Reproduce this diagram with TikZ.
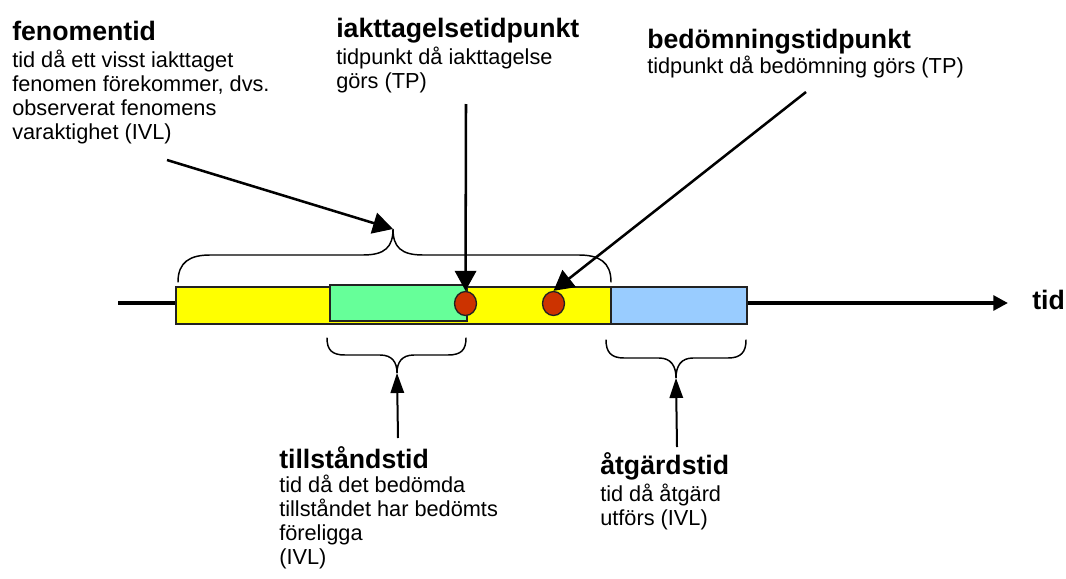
\documentclass[tikz,border=0pt]{standalone}
\usepackage{fontspec}
\setmainfont{Liberation Sans}
\usetikzlibrary{arrows.meta,shapes.geometric}
\definecolor{barY}{HTML}{FFFF00}
\definecolor{barG}{HTML}{66FF99}
\definecolor{barB}{HTML}{99CCFF}
\definecolor{dotR}{HTML}{CC3300}
\definecolor{edgeC}{HTML}{222222}
\tikzset{
  ttl/.style={anchor=base west, inner sep=0pt, font=\fontsize{20}{24}\selectfont\bfseries},
  bdy/.style={anchor=base west, inner sep=0pt, align=left, font=\fontsize{16.3}{18}\selectfont},
  barbox/.style={draw=edgeC, line width=1.2pt, inner sep=0pt, minimum height=27.75pt},
  tdot/.style={ellipse, draw=edgeC, line width=1pt, fill=dotR, inner sep=0pt, minimum width=16.5pt, minimum height=18pt},
  brc/.style={line width=1.1pt, line cap=round},
  bigarr/.style={line width=1.9pt, -{Triangle[length=15pt,width=16pt]}},
  smallarr/.style={line width=1.5pt, -{Triangle[length=15pt,width=10pt]}},
}
\begin{document}
\begin{tikzpicture}[x=0.75pt,y=-0.75pt]
\useasboundingbox (0,0) rectangle (1066,578);
% timeline
\coordinate (tl0) at (118,303);
\coordinate (tl1) at (1008,303);
\draw[line width=3.2pt, -{Triangle[length=11pt,width=11pt]}] (tl0) -- (tl1);
\node[ttl] (tidlbl) at (1032,309) {tid};
% bars
\node[barbox, fill=barY, minimum width=326.25pt] (yel) at (393.5,305.5) {};
\node[barbox, fill=barG, minimum width=102.75pt, minimum height=27pt] (grn) at (398.5,303) {};
\node[barbox, fill=barB, minimum width=102pt] (blu) at (679,305.5) {};
% dots
\node[tdot] (d1) at (465.5,303.5) {};
\node[tdot] (d2) at (553.5,303.5) {};
% braces
\coordinate (b0tip) at (393,229);
\draw[brc] (178,282) .. controls (178,262) and (190,255) .. (210,255) -- (363,255)
  .. controls (385,255) and (393,247) .. (b0tip)
  .. controls (393,247) and (401,255) .. (423,255) -- (579,255)
  .. controls (599,255) and (611,262) .. (611,282);
\coordinate (b1tip) at (397,373);
\draw[brc] (327,338) .. controls (327,350) and (332,355) .. (345,355) -- (380,355)
  .. controls (392,355) and (397,362) .. (b1tip)
  .. controls (397,362) and (402,355) .. (414,355) -- (448,355)
  .. controls (461,355) and (466,350) .. (466,338);
\coordinate (b2tip) at (676,378);
\draw[brc] (606,340) .. controls (606,352) and (611,358) .. (624,358) -- (659,358)
  .. controls (671,358) and (676,366) .. (b2tip)
  .. controls (676,366) and (681,358) .. (693,358) -- (728,358)
  .. controls (741,358) and (746,352) .. (746,340);
% texts (multi-line body nodes: base = last line)
\node[ttl] (fenT) at (12,40) {fenomentid};
\node[bdy] (fenB) at (12,139) {tid då ett visst iakttaget\\fenomen förekommer, dvs.\\observerat fenomens\\varaktighet (IVL)};
\node[ttl] (iakT) at (336,37) {iakttagelsetidpunkt};
\node[bdy] (iakB) at (336,88) {tidpunkt då iakttagelse\\görs (TP)};
\node[ttl] (bedT) at (647,48) {bedömningstidpunkt};
\node[bdy] (bedB) at (647,73) {tidpunkt då bedömning görs (TP)};
\node[ttl] (tilT) at (279,468) {tillståndstid};
\node[bdy] (tilB) at (279,564) {tid då det bedömda\\tillståndet har bedömts\\föreligga\\(IVL)};
\node[ttl] (atgT) at (600,474) {åtgärdstid};
\node[bdy] (atgB) at (600,525) {tid då åtgärd\\utförs (IVL)};
% arrows
\coordinate (fenA) at (167,160);
\coordinate (iakA) at (466,104);
\coordinate (bedA) at (806,92);
\coordinate (tilA) at (398,438);
\coordinate (atgA) at (677,447);
\draw[bigarr] (fenA) -- (b0tip);
\draw[bigarr] (iakA) -- (d1.north);
\draw[bigarr] (bedA) -- (d2.north);
\draw[smallarr] (tilA) -- (b1tip);
\draw[smallarr] (atgA) -- (b2tip);
\end{tikzpicture}
\end{document}
